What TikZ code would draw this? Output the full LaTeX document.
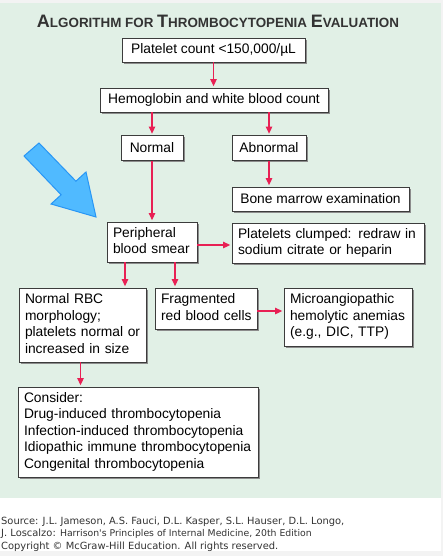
\documentclass[tikz,border=0pt]{standalone}
\usepackage{fontspec}
\setmainfont{Liberation Sans}
\newfontfamily\srcfont{DejaVu Sans}
\usetikzlibrary{arrows.meta,shadows}

\definecolor{bggreen}{RGB}{225,240,230}
\definecolor{bggrey}{RGB}{243,243,243}
\definecolor{flowred}{RGB}{232,32,84}
\definecolor{boxline}{RGB}{60,60,60}
\definecolor{arrowblue}{RGB}{80,186,255}
\definecolor{arrowedge}{RGB}{40,150,245}

\newcommand\tcap[2]{{\fontsize{18}{18}\selectfont #1}{\fontsize{13.4}{13.4}\selectfont #2}}
\newcommand\stack[1]{\begin{tabular}{@{}l@{}}#1\end{tabular}}

\tikzset{
  flowbox/.style={draw=boxline, line width=0.8pt, fill=white, inner sep=0pt,
    drop shadow={shadow xshift=1.6pt, shadow yshift=-1.6pt, fill=black!45, opacity=1},
    font=\fontsize{13.8}{16.5}\selectfont},
  leftbox/.style={flowbox, align=left, inner xsep=6pt, text width=#1},
  flow/.style={draw=flowred, line width=1.3pt, shorten >=1.5pt,
    -{Triangle[length=7pt,width=6.5pt]}}
}

\begin{document}
\begin{tikzpicture}[x=1pt,y=-1pt]
  % background
  \fill[bggrey] (0,0) rectangle (443,556);
  \fill[bggreen] (0,3) rectangle (441,498);
  \fill[white] (0,498) rectangle (441,551);

  % title
  \node[text=black!80, font=\bfseries] (title) at (218,21)
    {\tcap{A}{LGORITHM FOR }\tcap{T}{HROMBOCYTOPENIA }\tcap{E}{VALUATION}};

  % boxes
  \node[flowbox, minimum width=183pt, minimum height=24pt] (plt) at (213.5,50) {Platelet count <150,000/µL};
  \node[flowbox, minimum width=228pt, minimum height=24pt] (hgb) at (214,100) {Hemoglobin and white blood count};
  \node[flowbox, minimum width=62pt, minimum height=25pt] (nrm) at (152,148) {Normal};
  \node[flowbox, minimum width=74pt, minimum height=25pt] (abn) at (269,148) {Abnormal};
  \node[flowbox, minimum width=177pt, minimum height=24pt] (bme) at (320.5,199) {Bone marrow examination};
  \node[leftbox=78pt, minimum height=40pt] (pbs) at (152,242) {\stack{Peripheral\\blood smear}};
  \node[leftbox=180pt, minimum height=40pt] (clp) at (328,243) {\stack{Platelets clumped: redraw in\\sodium citrate or heparin}};
  \node[leftbox=115pt, minimum height=74pt] (rbc) at (82.5,325) {\stack{Normal RBC\\morphology;\\platelets normal or\\increased in size}};
  \node[leftbox=90pt, minimum height=41pt] (frg) at (206,308.5) {\stack{Fragmented\\red blood cells}};
  \node[leftbox=116pt, minimum height=58pt] (mah) at (348,317) {\stack{Microangiopathic\\hemolytic anemias\\(e.g., DIC, TTP)}};
  \node[leftbox=228pt, minimum height=90pt] (con) at (138,432) {\stack{Consider:\\Drug-induced thrombocytopenia\\Infection-induced thrombocytopenia\\Idiopathic immune thrombocytopenia\\Congenital thrombocytopenia}};

  % connectors
  \draw[flow] (plt) -- (plt |- hgb.north);
  \draw[flow] (hgb.south -| nrm) -- (nrm);
  \draw[flow] (hgb.south -| abn) -- (abn);
  \draw[flow] (abn) -- (abn |- bme.north);
  \draw[flow] (nrm) -- (pbs);
  \draw[flow] ([yshift=-3pt]pbs.east) -- ([yshift=-3pt]pbs.east -| clp.west);
  \draw[flow] ([xshift=-27pt]pbs.south) -- ([xshift=-27pt]pbs.south |- rbc.north);
  \draw[flow] ([xshift=23pt]pbs.south) -- ([xshift=23pt]pbs.south |- frg.north);
  \draw[flow] ([yshift=-2.5pt]frg.east) -- ([yshift=-2.5pt]frg.east -| mah.west);
  \draw[flow] ([xshift=-2pt]rbc.south) -- ([xshift=-2pt]rbc.south |- con.north);

  % blue pointer
  \filldraw[fill=arrowblue, draw=arrowedge, line width=1pt, line join=miter]
    (39,143) -- (75.9,181.2) -- (86,172) -- (96,217) -- (51,204) -- (61.1,194.8) -- (24,156) -- cycle;

  % source
  \node[anchor=west, align=left, inner sep=0pt, text=black!80,
    font=\srcfont\fontsize{9.9}{12.5}\selectfont] (src) at (1,534)
    {Source: J.L. Jameson, A.S. Fauci, D.L. Kasper, S.L. Hauser, D.L. Longo,\\
     J. Loscalzo: {\fontsize{9.3}{12.5}\selectfont Harrison's Principles of Internal Medicine, 20th Edition}\\
     Copyright © McGraw-Hill Education. All rights reserved.};
\end{tikzpicture}
\end{document}
